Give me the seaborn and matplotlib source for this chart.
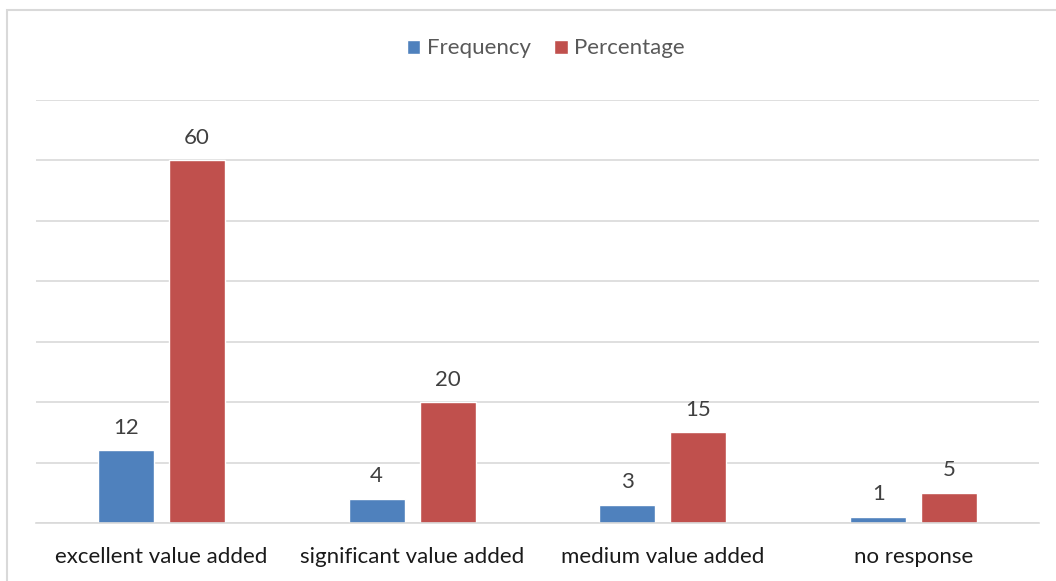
import matplotlib
matplotlib.use("Agg")
import matplotlib.pyplot as plt
from matplotlib.patches import Rectangle
import pandas as pd
import seaborn as sns

categories = ["excellent value added", "significant value added",
              "medium value added", "no response"]
series_names = ["Frequency", "Percentage"]
frequency = [12, 4, 3, 1]
percentage = [60, 20, 15, 5]

colors = ["#4F81BD", "#C0504D"]
grid_color = "#D9D9D9"

sns.set_theme(style="white")
plt.rcParams["font.family"] = ["Lato", "DejaVu Sans"]

df = pd.DataFrame({
    "category": categories * 2,
    "series": [series_names[0]] * len(categories) + [series_names[1]] * len(categories),
    "value": frequency + percentage,
})

W, H = 1056, 581
fig = plt.figure(figsize=(W / 100, H / 100), dpi=100)
ax = fig.add_axes([36 / W, 1 - 523 / H, (1039 - 36) / W, (523 - 100) / H])

sns.barplot(data=df, x="category", y="value", hue="series", order=categories,
            hue_order=series_names, palette=colors, width=0.566, gap=0.21,
            saturation=1, ax=ax, legend=False)

ax.set_ylim(0, 70)
ax.set_xlim(-0.5, len(categories) - 0.5)
ax.set_yticks(range(0, 71, 10))
ax.yaxis.grid(True, color=grid_color, linewidth=1.2)
ax.set_axisbelow(True)
for side in ["top", "right", "left"]:
    ax.spines[side].set_visible(False)
ax.spines["bottom"].set_color(grid_color)
ax.spines["bottom"].set_linewidth(1.2)
ax.tick_params(axis="y", left=False, labelleft=False)
ax.tick_params(axis="x", bottom=False, pad=11, labelsize=16, labelcolor="#1a1a1a")
ax.set_xlabel("")
ax.set_ylabel("")

for container in ax.containers:
    ax.bar_label(container, fmt="%g", padding=9, fontsize=16, color="#404040")

# legend
handles = [Rectangle((0, 0), 1, 1, facecolor=c) for c in colors]
fig.legend(handles, series_names, loc="center", bbox_to_anchor=(546 / W, 1 - 48.5 / H),
           ncol=2, frameon=False, fontsize=16, labelcolor="#595959",
           handlelength=0.6, handleheight=0.6, handletextpad=0.3, columnspacing=1.05)

# chart area border
fig.patches.append(Rectangle((6.5 / W, -0.1), 1.2, 1 - 9.5 / H + 0.1,
                             transform=fig.transFigure, fill=False,
                             edgecolor=grid_color, linewidth=1.5))

fig.savefig("out.png", dpi=100, facecolor="white")
